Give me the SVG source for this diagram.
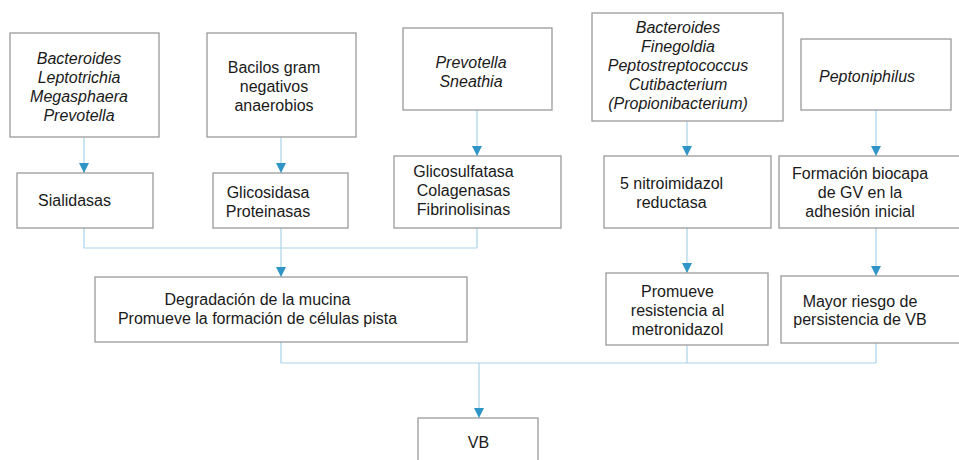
<svg xmlns="http://www.w3.org/2000/svg" width="959" height="460" viewBox="0 0 959 460">
<style>
  .box { fill: #ffffff; stroke: #9a9a9a; stroke-width: 1.3; }
  .t { font-family: "Liberation Sans", Arial, sans-serif; font-size: 16px; fill: #1a1a1a; text-anchor: middle; }
  .i { font-style: italic; }
  .c { fill: none; stroke: #a9d3e8; stroke-width: 1.2; }
  .a { fill: none; stroke: #a9d3e8; stroke-width: 1.2; marker-end: url(#arr); }
</style>
<defs>
  <marker id="arr" viewBox="0 0 10 10" refX="10" refY="5" markerWidth="11" markerHeight="10" markerUnits="userSpaceOnUse" orient="auto">
    <path d="M0,0 L10,5 L0,10 z" fill="#2f95c6"/>
  </marker>
</defs>
<rect width="959" height="460" fill="#ffffff"/>
<g id="connectors">
  <path class="a" d="M84,137 V173"/>
  <path class="a" d="M281,137 V173"/>
  <path class="a" d="M477,110 V156"/>
  <path class="a" d="M687,121 V156"/>
  <path class="a" d="M876,110 V156"/>
  <path class="c" d="M84,228 V248 H477"/>
  <path class="c" d="M281,228 V248"/>
  <path class="c" d="M477,228 V248"/>
  <path class="a" d="M281,248 V277"/>
  <path class="a" d="M687,228 V273"/>
  <path class="a" d="M876,228 V276"/>
  <path class="c" d="M281,342 V363 H876"/>
  <path class="c" d="M687,345 V363"/>
  <path class="c" d="M876,343 V363"/>
  <path class="a" d="M479,363 V418"/>
</g>
<g id="n1">
  <rect class="box" x="10" y="33" width="149" height="104"/>
  <text class="t i" x="79" y="64">Bacteroides</text>
  <text class="t i" x="79" y="83">Leptotrichia</text>
  <text class="t i" x="79" y="102">Megasphaera</text>
  <text class="t i" x="79" y="121">Prevotella</text>
</g>
<g id="n2">
  <rect class="box" x="207" y="33" width="149" height="104"/>
  <text class="t" x="274" y="73">Bacilos gram</text>
  <text class="t" x="274" y="92">negativos</text>
  <text class="t" x="274" y="111">anaerobios</text>
</g>
<g id="n3">
  <rect class="box" x="403" y="28" width="149" height="82"/>
  <text class="t i" x="471" y="68">Prevotella</text>
  <text class="t i" x="471" y="87">Sneathia</text>
</g>
<g id="n4">
  <rect class="box" x="592" y="13" width="191" height="108"/>
  <text class="t i" x="678" y="33">Bacteroides</text>
  <text class="t i" x="678" y="52">Finegoldia</text>
  <text class="t i" x="678" y="71">Peptostreptococcus</text>
  <text class="t i" x="678" y="90">Cutibacterium</text>
  <text class="t i" x="678" y="109">(Propionibacterium)</text>
</g>
<g id="n5">
  <rect class="box" x="801" y="39" width="150" height="71"/>
  <text class="t i" x="867" y="82">Peptoniphilus</text>
</g>
<g id="m1">
  <rect class="box" x="17" y="173" width="136" height="55"/>
  <text class="t" x="74.5" y="206">Sialidasas</text>
</g>
<g id="m2">
  <rect class="box" x="213" y="173" width="135" height="55"/>
  <text class="t" x="268" y="198">Glicosidasa</text>
  <text class="t" x="268" y="217">Proteinasas</text>
</g>
<g id="m3">
  <rect class="box" x="394" y="156" width="167" height="72"/>
  <text class="t" x="463.5" y="177">Glicosulfatasa</text>
  <text class="t" x="463.5" y="196">Colagenasas</text>
  <text class="t" x="463.5" y="215">Fibrinolisinas</text>
</g>
<g id="m4">
  <rect class="box" x="604" y="156" width="167" height="72"/>
  <text class="t" x="671.5" y="189">5 nitroimidazol</text>
  <text class="t" x="671.5" y="208">reductasa</text>
</g>
<g id="m5">
  <rect class="box" x="779" y="156" width="190" height="72"/>
  <text class="t" x="860" y="179">Formación biocapa</text>
  <text class="t" x="860" y="198">de GV en la</text>
  <text class="t" x="860" y="217">adhesión inicial</text>
</g>
<g id="b1">
  <rect class="box" x="95" y="277" width="372" height="65"/>
  <text class="t" x="257.5" y="305">Degradación de la mucina</text>
  <text class="t" x="257.5" y="324">Promueve la formación de células pista</text>
</g>
<g id="b2">
  <rect class="box" x="606" y="273" width="162" height="72"/>
  <text class="t" x="677.5" y="297">Promueve</text>
  <text class="t" x="677.5" y="316">resistencia al</text>
  <text class="t" x="677.5" y="335">metronidazol</text>
</g>
<g id="b3">
  <rect class="box" x="781" y="276" width="190" height="67"/>
  <text class="t" x="860" y="306.5">Mayor riesgo de</text>
  <text class="t" x="860" y="325">persistencia de VB</text>
</g>
<g id="vb">
  <rect class="box" x="418" y="418" width="120" height="60"/>
  <text class="t" x="478.5" y="448">VB</text>
</g>
</svg>
